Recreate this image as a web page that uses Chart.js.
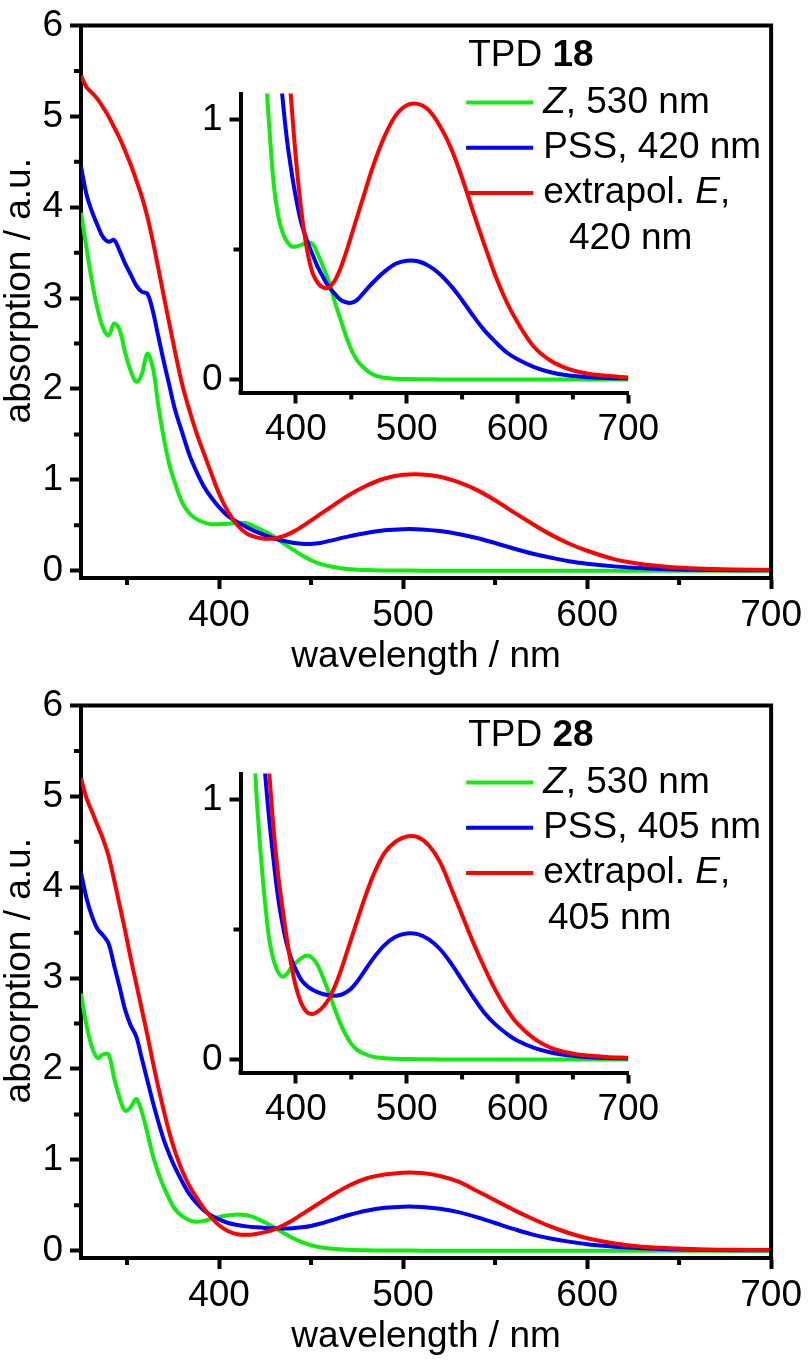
<!DOCTYPE html>
<html>
<head>
<meta charset="utf-8">
<script src="https://cdn.jsdelivr.net/npm/chart.js@4.4.1/dist/chart.umd.min.js"></script>
<style>
  html, body { margin: 0; padding: 0; background: #fff; overflow: hidden; }
  #page { position: relative; width: 810px; height: 1361px; }
  canvas { position: absolute; }
</style>
</head>
<body>
<div id="page">
  <canvas id="main18" width="810" height="680" style="left:0px;top:0px"></canvas>
  <canvas id="inset18" width="530" height="400" style="left:150px;top:60px"></canvas>
  <canvas id="main28" width="810" height="680" style="left:0px;top:680px"></canvas>
  <canvas id="inset28" width="530" height="400" style="left:150px;top:740px"></canvas>
</div>
<script>
// wavelength grid (nm), shared by all series
const wavelength = [325, 328, 331, 334, 337, 340, 343, 346, 349, 352, 355, 358, 361, 364, 367, 370,
  373, 376, 380, 384, 388, 392, 396, 400, 405, 410, 415, 420, 425, 430, 435, 440, 445, 450, 455, 460,
  470, 480, 490, 500, 510, 520, 530, 540, 550, 560, 570, 580, 590, 600, 615, 630, 645, 660, 680, 700];

// TPD 18
const z18 = [3.94, 3.55, 3.18, 2.88, 2.67, 2.59, 2.72, 2.65, 2.40, 2.20, 2.08, 2.16, 2.39, 2.24, 1.82, 1.46,
  1.17, 0.97, 0.75, 0.63, 0.565, 0.53, 0.512, 0.512, 0.518, 0.527, 0.522, 0.48, 0.43, 0.375, 0.30, 0.235, 0.17, 0.115, 0.075, 0.05,
  0.018, 0.007, 0.003, 0.002, 0.001, 0.001, 0, 0, 0, 0, 0, 0, 0, 0, 0, 0, 0, 0, 0, 0];
const pss18 = [4.45, 4.14, 3.95, 3.80, 3.67, 3.62, 3.64, 3.52, 3.38, 3.26, 3.14, 3.07, 3.05, 2.86, 2.58, 2.30,
  2.04, 1.78, 1.52, 1.27, 1.08, 0.92, 0.80, 0.70, 0.60, 0.535, 0.48, 0.43, 0.39, 0.355, 0.33, 0.307, 0.297, 0.295, 0.305, 0.328,
  0.375, 0.415, 0.445, 0.457, 0.455, 0.437, 0.405, 0.36, 0.305, 0.245, 0.19, 0.145, 0.105, 0.078, 0.048, 0.028, 0.016, 0.01, 0.006, 0.004];
const e18 = [5.45, 5.32, 5.26, 5.19, 5.10, 5.00, 4.88, 4.76, 4.62, 4.47, 4.30, 4.12, 3.90, 3.63, 3.33, 3.02,
  2.72, 2.42, 2.05, 1.76, 1.50, 1.28, 1.06, 0.85, 0.645, 0.50, 0.41, 0.37, 0.353, 0.355, 0.38, 0.425, 0.485, 0.553, 0.622, 0.69,
  0.825, 0.935, 1.015, 1.055, 1.06, 1.035, 0.975, 0.89, 0.775, 0.645, 0.52, 0.40, 0.30, 0.22, 0.125, 0.072, 0.042, 0.025, 0.014, 0.008];

// TPD 28
const z28 = [2.83, 2.48, 2.24, 2.12, 2.16, 2.16, 1.90, 1.68, 1.54, 1.58, 1.67, 1.53, 1.30, 1.05, 0.86, 0.70,
  0.57, 0.46, 0.38, 0.335, 0.318, 0.33, 0.355, 0.372, 0.39, 0.40, 0.39, 0.36, 0.31, 0.255, 0.195, 0.14, 0.095, 0.06, 0.038, 0.025,
  0.01, 0.005, 0.003, 0.002, 0.001, 0.001, 0, 0, 0, 0, 0, 0, 0, 0, 0, 0, 0, 0, 0, 0];
const pss28 = [4.16, 3.88, 3.68, 3.54, 3.47, 3.38, 3.14, 2.90, 2.65, 2.48, 2.36, 2.12, 1.88, 1.64, 1.42, 1.22,
  1.06, 0.92, 0.76, 0.62, 0.52, 0.44, 0.385, 0.345, 0.305, 0.283, 0.268, 0.258, 0.251, 0.247, 0.245, 0.248, 0.258, 0.273, 0.298, 0.328,
  0.39, 0.44, 0.472, 0.485, 0.482, 0.462, 0.425, 0.37, 0.305, 0.24, 0.18, 0.135, 0.10, 0.072, 0.045, 0.027, 0.016, 0.01, 0.006, 0.004];
const e28 = [5.20, 4.98, 4.83, 4.68, 4.53, 4.34, 4.08, 3.80, 3.52, 3.22, 2.94, 2.66, 2.38, 2.08, 1.80, 1.54,
  1.30, 1.10, 0.88, 0.71, 0.58, 0.46, 0.36, 0.28, 0.215, 0.182, 0.175, 0.185, 0.205, 0.235, 0.28, 0.335, 0.40, 0.465, 0.53, 0.595,
  0.71, 0.795, 0.838, 0.858, 0.855, 0.823, 0.76, 0.66, 0.555, 0.45, 0.355, 0.268, 0.195, 0.138, 0.08, 0.045, 0.027, 0.016, 0.01, 0.007];

// ticks
const xTicksMain = [400, 500, 600, 700];
const xMinorMain = [350, 450, 550, 650];
const yTicksMain = [0, 1, 2, 3, 4, 5, 6];
const yMinorMain = [0.5, 1.5, 2.5, 3.5, 4.5, 5.5];
const xTicksInset = [400, 500, 600, 700];
const xMinorInset = [450, 550, 650];
const yTicksInset = [0, 1];
const yMinorInset = [0.5];

// axis titles and legend text
const xTitle = 'wavelength / nm';
const yTitle = 'absorption / a.u.';
const title18 = [{ t: 'TPD ' }, { t: '18', b: true }];
const title28 = [{ t: 'TPD ' }, { t: '28', b: true }];
const names18 = [[{ t: 'Z', i: true }, { t: ', 530 nm' }], [{ t: 'PSS, 420 nm' }], [{ t: 'extrapol. ' }, { t: 'E', i: true }, { t: ',' }]];
const names28 = [[{ t: 'Z', i: true }, { t: ', 530 nm' }], [{ t: 'PSS, 405 nm' }], [{ t: 'extrapol. ' }, { t: 'E', i: true }, { t: ',' }]];
const cont18 = [{ t: '420 nm' }];
const cont28 = [{ t: '405 nm' }];

const GREEN = '#12ea12';
const BLUE = '#0000ff';
const RED = '#ff0000';
const COLORS = [GREEN, BLUE, RED];
const FONT = '"Liberation Sans", Arial, Helvetica, sans-serif';
const FSIZE = 37;
const AXIS_W = 4;

Chart.defaults.font.family = FONT;
Chart.defaults.font.size = FSIZE;
Chart.defaults.color = '#000';

function pts(ys) {
  return wavelength.map((x, i) => ({ x: x, y: ys[i] }));
}

function makeDatasets(z, pss, e) {
  return [
    { label: 'Z', data: pts(z), borderColor: GREEN, order: 3 },
    { label: 'PSS', data: pts(pss), borderColor: BLUE, order: 2 },
    { label: 'E', data: pts(e), borderColor: RED, order: 1 }
  ].map(d => Object.assign(d, {
    borderWidth: 4, pointRadius: 0, fill: false, tension: 0.35
  }));
}

function axis(min, max, ticks, pad, extra) {
  return Object.assign({
    type: 'linear', min: min, max: max,
    afterBuildTicks: s => { s.ticks = ticks.map(v => ({ value: v })); },
    ticks: { padding: pad, autoSkip: false, maxRotation: 0, font: { size: FSIZE, lineHeight: 1 } },
    grid: { drawOnChartArea: false, drawTicks: true, tickLength: 11, tickWidth: AXIS_W, tickColor: '#000' },
    border: { display: true, color: '#000', width: AXIS_W }
  }, extra);
}

function drawRuns(ctx, runs, x, y) {
  runs.forEach(r => {
    ctx.font = (r.i ? 'italic ' : '') + (r.b ? 'bold ' : '') + FSIZE + 'px ' + FONT;
    ctx.fillText(r.t, x, y);
    x += ctx.measureText(r.t).width;
  });
}

// minor ticks, closed frame, y title and the legend block
function decor(cfg) {
  return {
    id: 'decor',
    afterDraw(chart) {
      const ctx = chart.ctx;
      const a = chart.chartArea;
      const xs = chart.scales.x, ys = chart.scales.y;
      ctx.save();
      ctx.strokeStyle = '#000';
      ctx.fillStyle = '#000';
      ctx.lineWidth = AXIS_W;
      ctx.beginPath();
      cfg.minorX.forEach(v => {
        const p = xs.getPixelForValue(v);
        ctx.moveTo(p, a.bottom);
        ctx.lineTo(p, a.bottom + 7);
      });
      cfg.minorY.forEach(v => {
        const p = ys.getPixelForValue(v);
        ctx.moveTo(a.left, p);
        ctx.lineTo(a.left - 7, p);
      });
      ctx.stroke();
      ctx.fillRect(a.left - AXIS_W / 2, a.bottom - AXIS_W / 2, AXIS_W, AXIS_W);
      if (cfg.frame) {
        ctx.beginPath();
        ctx.moveTo(a.left - AXIS_W / 2, a.top);
        ctx.lineTo(a.right, a.top);
        ctx.lineTo(a.right, a.bottom + AXIS_W / 2);
        ctx.stroke();
      }
      if (cfg.yTitle) {
        ctx.save();
        ctx.translate(20, (a.top + a.bottom) / 2 - 11);
        ctx.rotate(-Math.PI / 2);
        ctx.font = FSIZE + 'px ' + FONT;
        ctx.textAlign = 'center';
        ctx.textBaseline = 'middle';
        ctx.fillText(cfg.yTitle, 0, 0);
        ctx.restore();
      }
      if (cfg.legend) {
        const L = cfg.legend;
        ctx.textBaseline = 'middle';
        ctx.textAlign = 'left';
        drawRuns(ctx, L.title, a.right - 303, a.top + 30);
        L.rows.forEach((runs, k) => {
          const y = a.top + 77 + k * 45.3;
          ctx.strokeStyle = COLORS[k];
          ctx.lineWidth = 4;
          ctx.beginPath();
          ctx.moveTo(a.right - 305, y);
          ctx.lineTo(a.right - 238, y);
          ctx.stroke();
          ctx.fillStyle = '#000';
          drawRuns(ctx, runs, a.right - 228, y);
        });
        drawRuns(ctx, L.cont, L.contX, a.top + 77 + 3 * 45.3);
      }
      ctx.restore();
    }
  };
}

function mainChart(id, z, pss, e, legend) {
  new Chart(document.getElementById(id), {
    type: 'line',
    data: { datasets: makeDatasets(z, pss, e) },
    options: {
      responsive: false,
      animation: false,
      devicePixelRatio: 1,
      layout: { autoPadding: false, padding: { left: 0, top: 17, right: 30, bottom: 0 } },
      plugins: { legend: { display: false }, tooltip: { enabled: false } },
      scales: {
        x: axis(325, 700, xTicksMain, 8, {
          afterFit: s => { s.height = 102; },
          title: { display: true, text: xTitle, font: { size: FSIZE, lineHeight: 1 }, padding: { top: 0, bottom: 5 } }
        }),
        y: axis(-0.08, 6, yTicksMain, 7, {
          afterFit: s => { s.width = 81; }
        })
      }
    },
    plugins: [decor({ minorX: xMinorMain, minorY: yMinorMain, frame: true, yTitle: yTitle, legend: legend })]
  });
}

function insetChart(id, z, pss, e) {
  new Chart(document.getElementById(id), {
    type: 'line',
    data: { datasets: makeDatasets(z, pss, e) },
    options: {
      responsive: false,
      animation: false,
      devicePixelRatio: 1,
      layout: { autoPadding: false, padding: { left: 0, top: 33.5, right: 51.7, bottom: 0 } },
      plugins: { legend: { display: false }, tooltip: { enabled: false } },
      scales: {
        x: axis(350, 700, xTicksInset, 8, { afterFit: s => { s.height = 67.5; } }),
        y: axis(-0.05, 1.1, yTicksInset, 7, { afterFit: s => { s.width = 90.5; } })
      }
    },
    plugins: [decor({ minorX: xMinorInset, minorY: yMinorInset, frame: false })]
  });
}

mainChart('main18', z18, pss18, e18, { title: title18, rows: names18, cont: cont18, contX: 569 });
insetChart('inset18', z18, pss18, e18);
mainChart('main28', z28, pss28, e28, { title: title28, rows: names28, cont: cont28, contX: 548 });
insetChart('inset28', z28, pss28, e28);
</script>
</body>
</html>
